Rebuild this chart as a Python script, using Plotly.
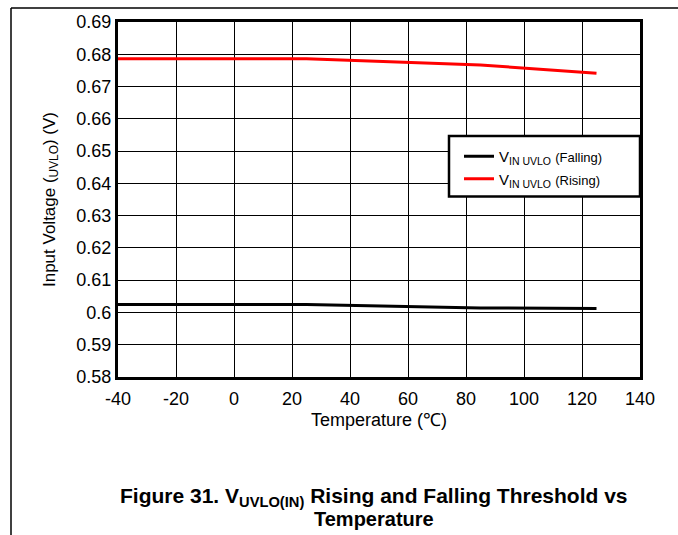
import plotly.graph_objects as go

# ---- data ----
temp_rising = [-40, 0, 25, 85, 125]
v_rising = [0.6786, 0.6786, 0.6786, 0.6767, 0.6741]
temp_falling = [-40, 0, 25, 85, 125]
v_falling = [0.6025, 0.6025, 0.6025, 0.6014, 0.6012]

x_ticks = [-40, -20, 0, 20, 40, 60, 80, 100, 120, 140]
x_tick_labels = ["-40", "-20", "0", "20", "40", "60", "80", "100", "120", "140"]
y_ticks = [0.58, 0.59, 0.60, 0.61, 0.62, 0.63, 0.64, 0.65, 0.66, 0.67, 0.68, 0.69]
y_tick_labels = ["0.58", "0.59", "0.6", "0.61", "0.62", "0.63", "0.64", "0.65", "0.66", "0.67", "0.68", "0.69"]

W, H = 678, 535
L, R, T, B = 118, 640, 19, 377
FONT = "Liberation Sans, Arial, sans-serif"

def px(xp):
    return (xp - L) / (R - L)

def py(yp):
    return (B - yp) / (B - T)

fig = go.Figure()
fig.add_trace(go.Scatter(
    x=temp_falling, y=v_falling, mode="lines",
    line=dict(color="black", width=3),
    name="V<sub>IN UVLO</sub> <span style='font-size:13px'>(Falling)</span>"))
fig.add_trace(go.Scatter(
    x=temp_rising, y=v_rising, mode="lines",
    line=dict(color="#ff0000", width=3),
    name="V<sub>IN UVLO</sub> <span style='font-size:13px'>(Rising)</span>"))

axis_common = dict(
    showgrid=True, gridcolor="black", gridwidth=1,
    showline=True, linecolor="black", linewidth=3, mirror=True,
    ticks="", zeroline=False,
    tickfont=dict(family=FONT, size=18, color="black"),
)

fig.update_xaxes(range=[-40, 140], tickvals=x_ticks, ticktext=x_tick_labels,
                 title=dict(text="Temperature (℃)", font=dict(family=FONT, size=18, color="black"), standoff=6),
                 ticklabelstandoff=3,
                 **axis_common)
fig.update_yaxes(range=[0.58, 0.69], tickvals=y_ticks, ticktext=y_tick_labels,
                 title=dict(text="Input Voltage (<sub>UVLO</sub>) (V)", font=dict(family=FONT, size=17, color="black"), standoff=17),
                 **axis_common)

shapes = [
    # page frame lines
    dict(type="line", xref="paper", yref="paper", x0=px(11), x1=px(11), y0=py(5), y1=py(540),
         line=dict(color="black", width=1.5), layer="above"),
    dict(type="line", xref="paper", yref="paper", x0=px(11), x1=px(690), y0=py(5), y1=py(5),
         line=dict(color="black", width=1.5), layer="above"),
    # legend box
    dict(type="rect", xref="paper", yref="paper", x0=px(449), x1=px(640), y0=py(134), y1=py(195),
         fillcolor="white", line=dict(color="black", width=2.5), layer="above"),
]

annotations = [
    dict(text="<b>Figure 31. V<sub>UVLO(IN)</sub> Rising and Falling Threshold vs</b>",
         xref="paper", yref="paper", x=px(374), y=py(498), xanchor="center", yanchor="middle",
         showarrow=False, font=dict(family=FONT, size=21, color="black")),
    dict(text="<b>Temperature</b>",
         xref="paper", yref="paper", x=px(374), y=py(520), xanchor="center", yanchor="middle",
         showarrow=False, font=dict(family=FONT, size=20, color="black")),
]

fig.update_layout(
    width=W, height=H,
    margin=dict(l=L, r=W - R, t=T, b=H - B),
    paper_bgcolor="white", plot_bgcolor="white",
    showlegend=True,
    legend=dict(x=px(459), y=py(138), xanchor="left", yanchor="top",
                bgcolor="rgba(0,0,0,0)", borderwidth=0,
                font=dict(family=FONT, size=15, color="black"),
                tracegroupgap=0, itemwidth=30),
    shapes=shapes, annotations=annotations,
    font=dict(family=FONT, color="black"),
)

fig.write_html("out.html", config={"displayModeBar": False},
               post_script="document.body.style.margin='0px';document.body.style.padding='0px';")
